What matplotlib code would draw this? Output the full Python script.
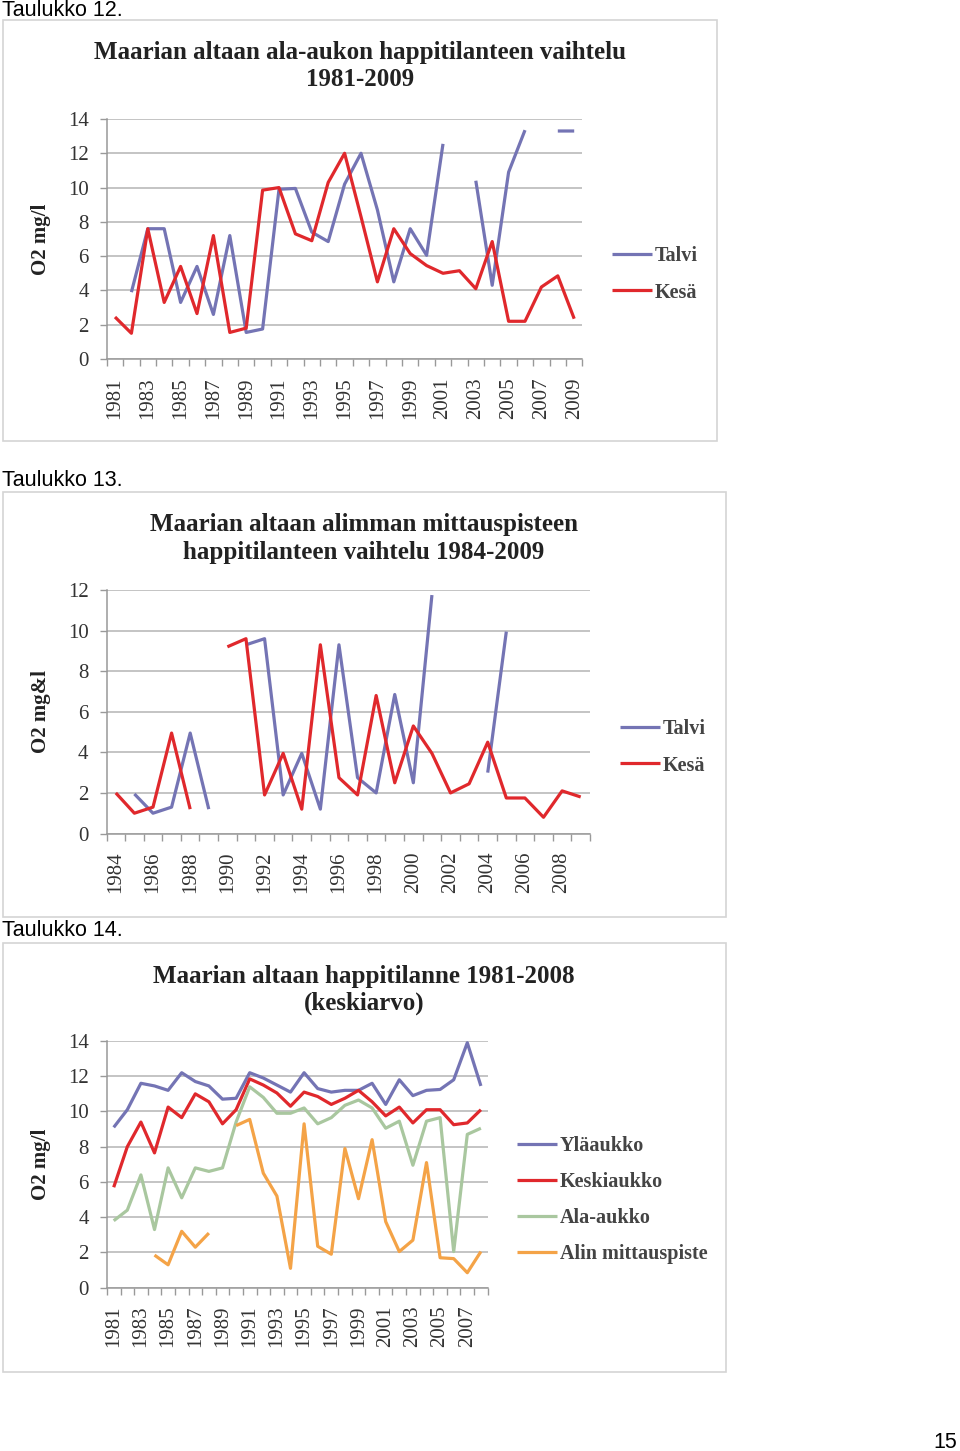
import numpy as np
import matplotlib
matplotlib.use('Agg')
import matplotlib.pyplot as plt
from matplotlib.patches import Rectangle
from matplotlib.ticker import FixedLocator, NullFormatter

nan = np.nan

# --- Taulukko 12: ala-aukko 1981-2009
years1 = list(range(1981, 2010))
talvi1 = [nan, 3.9, 7.6, 7.6, 3.3, 5.4, 2.6, 7.2, 1.55, 1.75, 9.9, 9.95, 7.4, 6.85, 10.2,
          12.0, 8.7, 4.5, 7.6, 6.05, 12.55, nan, 10.4, 4.3, 10.9, 13.35, nan, 13.3, 13.3]
kesa1 = [2.45, 1.5, 7.6, 3.3, 5.4, 2.65, 7.2, 1.55, 1.8, 9.85, 10.0, 7.3, 6.9, 10.3, 12.0,
         8.3, 4.5, 7.6, 6.15, 5.45, 5.0, 5.15, 4.1, 6.85, 2.2, 2.2, 4.2, 4.85, 2.35]

# --- Taulukko 13: alin mittauspiste 1984-2009
years2 = list(range(1984, 2010))
talvi2 = [nan, 1.95, 1.0, 1.3, 4.95, 1.2, nan, 9.3, 9.6, 1.9, 3.95, 1.2, 9.3, 2.75, 2.0,
          6.85, 2.5, 11.75, nan, nan, 3.0, 9.95, nan, nan, nan, nan]
kesa2 = [2.0, 1.0, 1.3, 4.95, 1.2, nan, 9.2, 9.6, 1.9, 3.95, 1.2, 9.3, 2.75, 1.9, 6.8,
         2.5, 5.3, 3.95, 2.0, 2.45, 4.5, 1.75, 1.75, 0.8, 2.1, 1.8]

# --- Taulukko 14: keskiarvo 1981-2008
years3 = list(range(1981, 2009))
ylaaukko = [9.1, 10.1, 11.6, 11.45, 11.2, 12.2, 11.7, 11.45, 10.7, 10.75, 12.2, 11.9, 11.5,
            11.1, 12.2, 11.3, 11.1, 11.2, 11.2, 11.6, 10.4, 11.8, 10.9, 11.2, 11.25, 11.8,
            13.9, 11.45]
keskiaukko = [5.7, 8.0, 9.4, 7.65, 10.25, 9.65, 11.0, 10.55, 9.3, 10.1, 11.85, 11.5, 11.05,
              10.3, 11.1, 10.85, 10.4, 10.75, 11.2, 10.55, 9.75, 10.25, 9.35, 10.1, 10.1,
              9.25, 9.35, 10.1]
alaaukko = [3.8, 4.4, 6.4, 3.3, 6.8, 5.1, 6.8, 6.6, 6.8, 9.4, 11.4, 10.8, 9.9, 9.9, 10.2,
            9.3, 9.65, 10.35, 10.65, 10.2, 9.05, 9.45, 6.95, 9.45, 9.65, 2.05, 8.7, 9.05]
alin = [nan, nan, nan, 1.85, 1.3, 3.2, 2.3, 3.1, nan, 9.2, 9.55, 6.5, 5.2, 1.1, 9.3, 2.35,
        1.9, 7.9, 5.05, 8.4, 3.75, 2.05, 2.7, 7.1, 1.7, 1.65, 0.85, 2.05]

W, H = 960, 1451
fig = plt.figure(figsize=(W / 100, H / 100), dpi=100)
SERIF = ['Liberation Serif', 'DejaVu Serif']
SANS = ['Liberation Sans', 'DejaVu Sans']
BLUE = '#7474b4'
RED = '#e0282c'
GREEN = '#a9c79f'
ORANGE = '#f4a347'


def fx(x):
    return x / W


def fy(y):
    return 1 - y / H


def box(x0, y0, x1, y1):
    fig.patches.append(Rectangle((fx(x0), fy(y1)), fx(x1 - x0), (y1 - y0) / H,
                                 transform=fig.transFigure, fill=False,
                                 edgecolor='#d4d4d4', lw=1.2))


def chart(left, right, top, bottom, years, series, ymax, title, title_y, title_x, ylab,
          leg_x, leg_y, leg_space):
    ax = fig.add_axes([fx(left), fy(bottom), fx(right - left), (bottom - top) / H])
    x = np.arange(len(years))
    for vals, col, lab in series:
        ax.plot(x, vals, color=col, lw=2.3, label=lab, solid_capstyle='butt')
    ax.set_xlim(-0.5, len(years) - 0.5)
    ax.set_ylim(0, ymax)
    ax.set_yticks(range(0, ymax + 1, 2))
    ax.set_xticks(x[::2])
    ax.set_xticklabels([str(y) for y in years[::2]], rotation=90, fontsize=15,
                       family=SERIF, color='#333333')
    ax.tick_params(axis='x', length=0, pad=13)
    ax.xaxis.set_minor_locator(FixedLocator(np.arange(-0.5, len(years), 1)))
    ax.xaxis.set_minor_formatter(NullFormatter())
    ax.tick_params(axis='x', which='minor', length=5, color='#999999', width=1)
    ax.tick_params(axis='y', length=5, color='#999999', width=1, labelsize=15, pad=8,
                   labelcolor='#333333')
    for t in ax.get_yticklabels():
        t.set_family(SERIF)
    ax.grid(axis='y', color='#b4b4b4', lw=1.1)
    ax.set_axisbelow(True)
    for s in ['top', 'right']:
        ax.spines[s].set_visible(False)
    for s in ['left', 'bottom']:
        ax.spines[s].set_color('#999999')
        ax.spines[s].set_linewidth(1.1)
    for i, line in enumerate(title):
        fig.text(fx(title_x), fy(title_y + 27 * i), line, ha='center', va='center',
                 fontsize=18, fontweight='bold', family=SERIF, color='#222222')
    fig.text(fx(41), fy((top + bottom) / 2), ylab, rotation=90, ha='center', va='center',
             fontsize=15, fontweight='bold', family=SERIF, color='#222222')
    fig.legend(*ax.get_legend_handles_labels(), loc='upper left',
               bbox_to_anchor=(fx(leg_x), fy(leg_y)), frameon=False, borderpad=0,
               borderaxespad=0, handlelength=2.0, handletextpad=0.12,
               labelspacing=leg_space,
               prop={'family': SERIF, 'size': 14.5, 'weight': 'bold'}, labelcolor='#444444')
    return ax


box(3, 20, 717, 441)
box(3, 492, 726, 917)
box(3, 943, 726, 1372)

chart(106.8, 582.4, 119, 359, years1,
      [(talvi1, BLUE, 'Talvi'), (kesa1, RED, 'Kesä')], 14,
      ['Maarian altaan ala-aukon happitilanteen vaihtelu', '1981-2009'], 53, 360,
      'O2 mg/l', 612, 246, 0.82)
chart(106.5, 590, 590, 833.5, years2,
      [(talvi2, BLUE, 'Talvi'), (kesa2, RED, 'Kesä')], 12,
      ['Maarian altaan alimman mittauspisteen', 'happitilanteen vaihtelu 1984-2009'], 525,
      364, 'O2 mg&l', 620, 719, 0.82)
chart(106.9, 487.7, 1041, 1287.7, years3,
      [(ylaaukko, BLUE, 'Yläaukko'), (keskiaukko, RED, 'Keskiaukko'),
       (alaaukko, GREEN, 'Ala-aukko'), (alin, ORANGE, 'Alin mittauspiste')], 14,
      ['Maarian altaan happitilanne 1981-2008', '(keskiarvo)'], 976, 364,
      'O2 mg/l', 517, 1136, 0.8)

for txt, y in [('Taulukko 12.', 10), ('Taulukko 13.', 481), ('Taulukko 14.', 931)]:
    fig.text(fx(2), fy(y), txt, ha='left', va='center', fontsize=15.5, family=SANS)
fig.text(fx(957), fy(1442), '15', ha='right', va='center', fontsize=15.5, family=SANS)

fig.savefig('out.png', dpi=100, facecolor='white')
